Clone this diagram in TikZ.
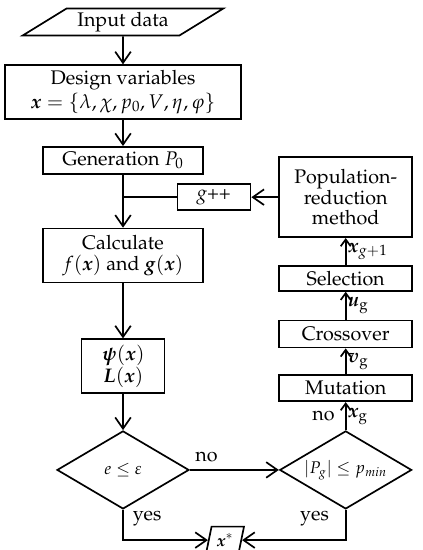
\documentclass[tikz,border=0pt]{standalone}
\usepackage[T1]{fontenc}
\usepackage{amsmath,amssymb}
\usepackage{mathpazo}
\usepackage{tikz}
\usetikzlibrary{shapes.geometric, arrows.meta, positioning, calc}

\begin{document}
\begin{tikzpicture}[
    node distance=0.65cm and 0.675cm,
    every node/.style={font=\fontsize{14}{14.5}\selectfont},
    block/.style={rectangle, draw, line width=1.2pt, align=center, inner sep=2pt, minimum height=0.65cm},
    io/.style={trapezium, draw, line width=1.2pt, trapezium stretches=true, trapezium left angle=34, trapezium right angle=146, inner sep=2pt},
    decision/.style={diamond, draw, line width=1.2pt, aspect=1.7, minimum width=3.3cm, minimum height=1.95cm, inner sep=0pt, font=\fontsize{12}{14}\selectfont},
    arrow/.style={-{Straight Barb[length=2.8mm, width=3.9mm]}, line width=1.2pt},
    smallarrow/.style={-{Straight Barb[length=1.7mm, width=2.5mm]}, line width=1.2pt},
    line/.style={line width=1.2pt}
]
\useasboundingbox (0,0) rectangle (10.575,-13.75);

% main column
\node[io, minimum width=5.025cm, minimum height=0.675cm] (input) at (3.075,-0.55) {Input data};
\node[block, below=0.7cm of input, minimum width=5.9cm, minimum height=1.35cm, font=\fontsize{14}{17}\selectfont] (design) {Design variables\\ $\boldsymbol{x}=\{\lambda,\chi,p_0,V,\eta,\varphi\}$};
\node[block, below=0.65cm of design, minimum width=4cm, minimum height=0.675cm] (gen) {Generation $P_0$};
\node[block, below=1.325cm of gen, minimum width=4cm, minimum height=1.35cm] (calc) {Calculate\\ $f(\boldsymbol{x})$ and $\boldsymbol{g}(\boldsymbol{x})$};
\node[block, below=1.375cm of calc, minimum width=2.075cm, minimum height=1.35cm, font=\fontsize{14}{13}\selectfont] (psi) {$\boldsymbol{\psi}(\boldsymbol{x})$\\ $\boldsymbol{L}(\boldsymbol{x})$};
\node[decision, below=0.9cm of psi] (check) {$e \le \varepsilon$};

% right column
\node[decision, right=2.225cm of check] (size) {$|P_g| \le p_{min}$};
\node[block, above=0.7cm of size, minimum width=3.325cm] (mut) {Mutation};
\node[block, above=0.65cm of mut, minimum width=3.325cm, minimum height=0.675cm] (cross) {Crossover};
\node[block, above=0.7cm of cross, minimum width=3.325cm, minimum height=0.625cm] (sel) {Selection};
\node[block, above=0.675cm of sel, minimum width=3.325cm, minimum height=2cm] (pop) {Population-\\reduction\\method};
\node[block, left=0.675cm of pop, minimum width=1.825cm] (gpp) {\textit{g++}};

% result
\node[io, trapezium left angle=75, trapezium right angle=105, minimum width=0.95cm, minimum height=0.675cm, inner sep=0.5pt, font=\fontsize{12}{14}\selectfont, below=0.4cm of check.south, xshift=2.55cm] (xstar) {$\boldsymbol{x}^*$};

\draw[arrow] (input) -- (design);
\draw[arrow] (design) -- (gen);
\draw[arrow] (gen) -- (calc);
\draw[line] (gpp.west) -- (gpp.west -| calc.north);
\draw[arrow] (pop) -- (gpp);
\draw[arrow] (calc) -- (psi);
\draw[arrow] (psi) -- (check);
\draw[arrow] (check) -- node[above right, pos=0, yshift=2pt] {no} (size);
\draw[arrow] (check.south) |- node[right, pos=0.15, xshift=3pt] {yes} (xstar.west);
\draw[arrow] (size.south) |- node[left, pos=0.15, xshift=-8pt] {yes} (xstar.east);
\draw[smallarrow] (size) -- node[left, xshift=-4pt] {no} node[right, inner sep=1pt] {$\boldsymbol{x}_{\mathrm{g}}$} (mut);
\draw[smallarrow] (mut) -- node[right, inner sep=1pt] {$\boldsymbol{v}_{\mathrm{g}}$} (cross);
\draw[smallarrow] (cross) -- node[right, inner sep=1pt] {$\boldsymbol{u}_{\mathrm{g}}$} (sel);
\draw[smallarrow] (sel) -- node[right, inner sep=1pt] {$\boldsymbol{x}_{g+1}$} (pop);

\end{tikzpicture}
\end{document}
